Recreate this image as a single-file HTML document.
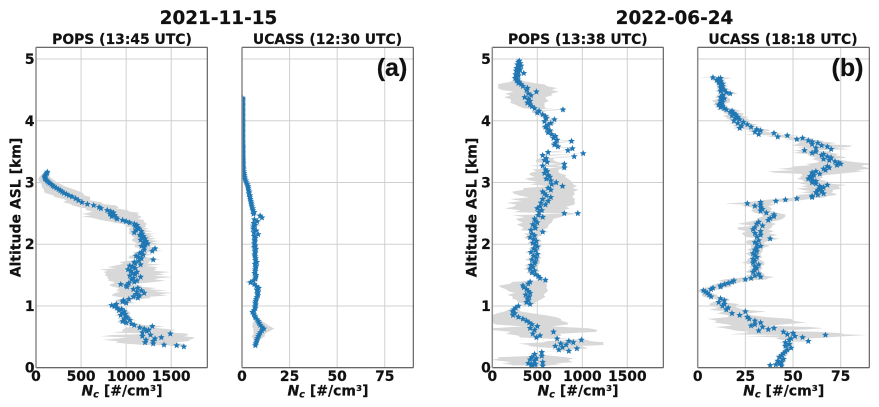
<!DOCTYPE html>
<html lang="en">
<head>
<meta charset="utf-8">
<title>Aerosol number concentration profiles</title>
<style>
html,body{margin:0;padding:0;background:#fff;width:879px;height:407px;overflow:hidden}
svg{display:block;filter:blur(0.35px)}
text{font-family:"DejaVu Sans","Liberation Sans",sans-serif;font-weight:bold;fill:#111;stroke:#111;stroke-width:0.2px}
</style>
</head>
<body>
<svg id="chart" xmlns="http://www.w3.org/2000/svg" width="879" height="407" viewBox="0 0 879 407">
<rect width="879" height="407" fill="#fff"/>
<g id="panels"></g>
<text x="218.5" y="24" font-size="18.4" text-anchor="middle">2021-11-15</text>
<text x="674.5" y="24" font-size="18.4" text-anchor="middle">2022-06-24</text>
<text x="122" y="44" font-size="13.9" text-anchor="middle">POPS (13:45 UTC)</text>
<text x="327.5" y="44" font-size="13.9" text-anchor="middle">UCASS (12:30 UTC)</text>
<text x="577.8" y="44" font-size="13.9" text-anchor="middle">POPS (13:38 UTC)</text>
<text x="783" y="44" font-size="13.9" text-anchor="middle">UCASS (18:18 UTC)</text>
<text x="392" y="76" font-size="25" text-anchor="middle" style="font-family:'Liberation Sans',sans-serif">(a)</text>
<text x="847.5" y="76" font-size="25" text-anchor="middle" style="font-family:'Liberation Sans',sans-serif">(b)</text>
<text transform="translate(20.7,207.5) rotate(-90)" font-size="14" text-anchor="middle">Altitude ASL [km]</text>
<text transform="translate(476.7,207.5) rotate(-90)" font-size="14" text-anchor="middle">Altitude ASL [km]</text>
<text x="122" y="395.5" font-size="14" text-anchor="middle"><tspan font-style="italic">N</tspan><tspan font-style="italic" font-size="9.8" dy="2">c</tspan><tspan dy="-2"> [#/cm³]</tspan></text>
<text x="328" y="395.5" font-size="14" text-anchor="middle"><tspan font-style="italic">N</tspan><tspan font-style="italic" font-size="9.8" dy="2">c</tspan><tspan dy="-2"> [#/cm³]</tspan></text>
<text x="578" y="395.5" font-size="14" text-anchor="middle"><tspan font-style="italic">N</tspan><tspan font-style="italic" font-size="9.8" dy="2">c</tspan><tspan dy="-2"> [#/cm³]</tspan></text>
<text x="783.7" y="395.5" font-size="14" text-anchor="middle"><tspan font-style="italic">N</tspan><tspan font-style="italic" font-size="9.8" dy="2">c</tspan><tspan dy="-2"> [#/cm³]</tspan></text>
</svg>
<script>
const yTickLabels = [0,1,2,3,4,5];
const popsTickLabels = [0,500,1000,1500];
const ucassTickLabels = [0,25,50,75];

const pops2021Alt = [
3.17,3.15,3.13,3.11,3.09,3.07,3.05,3.03,3.01,2.99,
2.97,2.95,2.93,2.91,2.89,2.87,2.85,2.83,2.81,2.79,
2.77,2.74,2.71,2.68,2.65,2.63,2.60,2.58,2.55,2.53,
2.51,2.49,2.47,2.45,2.43,2.41,2.39,2.37,2.35,2.33,
2.31,2.29,2.27,2.25,2.23,2.21,2.19,2.17,2.15,2.13,
2.11,2.09,2.07,2.05,2.03,2.01,1.99,1.97,1.95,1.93,
1.91,1.89,1.87,1.85,1.83,1.81,1.79,1.77,1.75,1.73,
1.71,1.69,1.67,1.65,1.63,1.61,1.59,1.57,1.55,1.53,
1.51,1.49,1.47,1.45,1.43,1.41,1.39,1.37,1.35,1.33,
1.31,1.29,1.27,1.25,1.23,1.21,1.19,1.17,1.15,1.13,
1.11,1.09,1.07,1.05,1.03,1.01,0.99,0.97,0.95,0.93,
0.91,0.89,0.87,0.85,0.83,0.81,0.79,0.77,0.75,0.73,
0.71,0.69,0.67,0.65,0.63,0.61,0.59,0.57,0.55,0.53,
0.51,0.49,0.47,0.45,0.43,0.41,0.39,0.37,0.36,0.34];
const pops2021Nc = [
125,120,110,100,95,100,105,120,135,150,
170,185,200,225,250,270,290,310,340,365,
400,440,470,510,570,640,700,720,790,830,
860,820,870,840,890,900,960,1000,1040,1090,
1120,1100,1130,1140,1110,1170,1090,1180,1150,1190,
1170,1210,1160,1220,1190,1240,1210,1170,1200,1320,
1200,1290,1170,1150,1190,1110,1130,1170,1300,1140,
1090,1100,1160,1040,1070,1100,1020,1050,1120,1070,
1100,1040,1160,1080,1060,1120,1090,1030,940,1000,
1010,1130,1080,1170,1120,1200,1110,1150,1080,1130,
1030,970,960,1000,890,840,870,900,950,920,
980,960,990,940,1000,1010,980,1040,960,1000,
1060,1090,1290,1150,1200,1250,1230,1180,1490,1270,
1180,1390,1320,1220,1300,1210,1300,1420,1560,1640];
const pops2021Spread = [
20,30,40,50,60,70,80,90,95,100,
110,120,135,150,165,180,200,210,190,170,
200,160,130,210,180,240,220,170,230,200,
280,310,260,330,270,230,240,190,170,140,
90,120,70,110,80,130,60,140,90,120,
80,130,100,150,90,120,110,80,100,70,
70,120,90,60,110,70,100,140,80,120,
170,130,230,180,280,210,320,250,370,290,
330,270,360,290,250,320,230,160,120,180,
150,210,170,280,190,320,260,310,180,140,
120,90,70,110,80,70,60,50,70,60,
50,80,60,70,50,60,80,70,60,90,
90,110,140,160,220,300,260,340,190,420,
460,370,430,480,390,330,310,240,90,40];

const ucass2021Alt = [
4.37,4.35,4.33,4.31,4.29,4.27,4.25,4.23,4.21,4.19,
4.17,4.15,4.13,4.11,4.09,4.07,4.05,4.03,4.01,3.99,
3.97,3.95,3.93,3.91,3.89,3.87,3.85,3.83,3.81,3.79,
3.77,3.75,3.73,3.71,3.69,3.67,3.65,3.63,3.61,3.59,
3.57,3.55,3.53,3.51,3.49,3.47,3.45,3.43,3.41,3.39,
3.37,3.35,3.33,3.31,3.29,3.27,3.25,3.23,3.21,
3.18,3.15,3.12,3.09,3.06,3.03,3.00,2.97,2.94,2.91,
2.88,2.85,2.82,2.79,2.76,2.73,2.70,2.67,2.64,2.61,
2.58,2.55,2.52,2.49,2.46,2.43,2.40,2.37,2.34,2.31,
2.28,2.25,2.22,2.19,2.16,2.13,2.10,2.07,2.04,2.01,
1.98,1.95,1.92,1.89,1.86,1.83,1.80,1.77,1.74,1.71,
1.68,1.65,1.62,1.59,1.56,1.53,1.50,1.47,1.44,1.41,
1.38,1.35,1.32,1.29,1.26,1.23,1.20,1.17,1.14,1.11,
1.08,1.05,1.02,0.99,0.96,0.93,0.90,0.87,0.84,0.81,
0.78,0.75,0.72,0.69,0.66,0.63,0.60,0.57,0.54,0.51,
0.48,0.45,0.42,0.39,0.36];
const ucass2021Nc = [
0.3,0.3,0.3,0.3,0.3,0.3,0.3,0.3,0.3,0.3,
0.3,0.3,0.3,0.3,0.3,0.3,0.3,0.3,0.3,0.3,
0.3,0.3,0.3,0.3,0.3,0.3,0.3,0.3,0.3,0.3,
0.3,0.3,0.3,0.3,0.3,0.3,0.3,0.3,0.4,0.4,
0.4,0.4,0.4,0.4,0.4,0.4,0.4,0.4,0.4,0.4,
0.5,0.5,0.5,0.5,0.5,0.5,0.6,0.6,0.7,
0.9,1.1,1.2,1.4,1.6,2.0,2.3,2.8,3.1,3.3,
3.4,3.8,3.6,4.2,4.1,4.4,4.6,4.9,5.0,5.2,
5.6,5.7,6.4,6.0,9.5,10.5,6.5,8.0,6.2,6.8,
6.2,5.9,7.5,6.2,8.5,6.4,7.0,6.6,6.8,6.4,
7.0,6.5,7.2,6.8,7.0,6.6,6.9,7.2,7.0,7.8,
6.8,7.4,7.2,6.9,7.0,6.6,7.4,7.2,7.0,6.0,
4.5,6.5,7.5,8.8,7.8,8.5,8.0,8.4,7.8,7.4,
7.2,7.0,7.2,6.8,7.0,6.4,5.5,6.2,6.8,7.0,
8.0,8.6,9.0,9.6,10.4,11.5,10.5,9.6,9.0,8.6,
8.2,7.8,7.6,7.2,7.0];
const ucass2021Spread = [
0.1,0.1,0.1,0.1,0.1,0.1,0.1,0.1,0.1,0.1,
0.1,0.1,0.1,0.1,0.1,0.1,0.1,0.1,0.1,0.1,
0.1,0.1,0.1,0.1,0.1,0.1,0.1,0.1,0.1,0.1,
0.1,0.1,0.1,0.1,0.1,0.1,0.1,0.1,0.1,0.1,
0.1,0.1,0.1,0.1,0.1,0.1,0.1,0.1,0.1,0.1,
0.2,0.2,0.2,0.2,0.2,0.2,0.2,0.2,0.3,
0.3,0.4,0.4,0.5,0.5,0.6,0.7,0.8,1.5,0.8,
0.8,0.9,0.9,1.0,1.0,1.0,1.0,1.0,1.0,1.0,
1.0,1.0,1.1,1.2,1.2,1.4,1.5,2.2,1.2,3.0,
1.2,1.0,1.2,1.2,1.0,0.9,1.0,1.5,1.2,1.0,
1.4,2.2,1.5,1.2,1.0,1.0,0.9,1.0,0.9,1.0,
0.9,0.9,1.0,1.0,0.9,1.0,0.9,1.0,1.2,2.5,
3.0,1.2,1.0,1.0,1.0,1.0,0.9,1.0,0.9,0.9,
0.9,0.9,0.9,1.0,1.0,1.0,1.2,1.1,1.2,1.4,
1.8,2.2,3.5,4.0,5.0,5.5,4.5,3.5,3.0,3.5,
2.5,1.5,1.2,1.0,0.8];

const pops2022Alt = [
4.97,4.95,4.93,4.91,4.89,4.87,4.85,4.83,4.81,4.79,
4.77,4.75,4.73,4.71,4.69,4.67,4.65,4.63,4.61,4.59,
4.56,4.53,4.50,4.47,4.44,4.41,4.38,4.35,4.32,4.29,
4.26,4.23,4.20,4.18,4.16,4.13,4.10,4.07,4.04,4.02,
3.99,3.96,3.93,3.90,3.87,3.84,3.81,3.78,3.75,3.72,
3.69,3.67,3.64,3.61,3.58,3.55,3.52,3.49,3.47,3.44,
3.42,3.39,3.36,3.33,3.30,3.27,3.24,3.21,3.18,3.15,
3.12,3.09,3.06,3.03,3.00,2.97,2.94,2.91,2.88,2.85,
2.82,2.79,2.76,2.73,2.70,2.67,2.64,2.61,2.58,2.55,
2.52,2.50,2.50,2.47,2.44,2.41,2.38,2.35,2.32,2.29,
2.26,2.23,2.20,2.17,2.14,2.11,2.08,2.05,2.02,1.99,
1.96,1.93,1.90,1.87,1.84,1.81,1.78,1.75,1.72,1.69,
1.66,1.63,1.60,1.57,1.54,1.51,1.48,1.45,1.42,1.39,
1.36,1.33,1.30,1.27,1.24,1.21,1.18,1.15,1.12,1.09,
1.06,1.03,1.00,0.97,0.94,0.91,0.88,0.85,0.82,0.79,
0.76,0.73,0.70,0.67,0.64,0.61,0.58,0.55,0.52,0.49,
0.47,0.45,0.43,0.41,0.39,0.37,0.35,0.33,0.31,0.29,
0.27,0.25,0.22,0.19,0.17,0.15,0.13,0.11,0.09,0.07,
0.06,0.05,0.05,0.04,0.03];
const pops2022Nc = [
300,290,310,280,320,300,270,310,265,290,
350,260,290,270,255,280,270,300,290,320,
340,390,380,490,400,430,360,400,420,390,
420,440,470,785,520,500,560,590,600,690,
580,650,620,590,610,640,620,660,700,680,
720,880,700,690,730,890,840,620,1010,560,
910,600,580,610,800,560,800,590,610,580,
620,640,600,650,710,660,780,620,650,560,
580,600,650,560,620,540,590,530,500,550,
520,800,950,510,560,470,480,500,450,470,
480,430,560,440,470,420,460,490,450,480,
500,460,480,430,500,460,490,440,480,470,
430,450,420,470,440,480,510,530,590,420,
400,340,350,380,400,420,370,410,390,400,
380,420,290,260,240,225,250,230,290,340,
380,410,440,500,420,470,680,450,530,490,
720,990,850,900,760,820,700,780,940,740,
850,550,470,550,440,490,420,470,560,400,
480,440,470,430,560];
const pops2022Spread = [
20,25,30,25,30,35,35,30,30,35,
30,40,35,40,45,40,50,100,170,260,
270,330,280,250,260,230,230,200,210,190,
160,140,120,40,80,60,60,50,40,30,
50,60,50,50,40,50,40,50,40,40,
40,30,50,40,40,30,30,50,20,90,
30,80,100,120,50,150,60,150,120,170,
200,170,240,220,180,240,160,270,310,340,
340,300,240,360,290,380,320,290,360,240,
280,120,70,290,200,210,190,160,180,150,
130,120,70,90,80,70,70,60,60,60,
50,60,50,70,50,50,60,80,50,60,
70,50,70,60,60,50,40,30,20,200,
200,270,250,230,220,170,200,180,170,120,
100,60,40,40,60,90,200,360,420,420,
390,430,400,160,650,700,470,300,240,180,
100,60,240,340,470,420,280,260,120,110,
40,30,20,130,380,420,430,390,340,300,
300,270,250,220,30];

const ucass2022Alt = [
4.70,4.69,4.68,4.66,4.64,4.62,4.60,4.58,4.56,4.54,
4.52,4.50,4.48,4.46,4.44,4.42,4.40,4.38,4.36,4.34,
4.32,4.30,4.28,4.26,4.24,4.22,4.20,4.18,4.16,4.14,
4.12,4.10,4.08,4.06,4.04,4.02,4.00,3.98,3.96,3.94,
3.92,3.90,3.88,3.86,3.84,3.82,3.80,3.78,3.76,3.74,
3.72,3.70,3.68,3.66,3.64,3.62,3.60,3.58,3.56,3.54,
3.52,3.50,3.48,3.46,3.44,3.42,3.40,3.38,3.36,3.34,
3.32,3.30,3.28,3.26,3.24,3.22,3.20,3.18,3.16,3.14,
3.12,3.10,3.08,3.06,3.04,3.02,3.00,2.98,2.96,2.94,
2.92,2.90,2.88,2.86,2.84,2.82,2.80,2.78,2.76,2.74,
2.72,2.70,2.68,2.66,2.64,2.62,2.60,2.57,2.54,2.51,
2.48,2.45,2.42,2.39,2.36,2.33,2.30,2.27,2.24,2.21,
2.18,2.15,2.12,2.09,2.06,2.03,2.00,1.97,1.94,1.91,
1.88,1.85,1.82,1.79,1.76,1.73,1.70,1.67,1.64,1.61,
1.58,1.55,1.52,1.49,1.47,1.45,1.43,1.41,1.39,1.37,
1.35,1.33,1.31,1.29,1.27,1.25,1.23,1.21,1.18,1.15,
1.12,1.09,1.06,1.03,1.00,0.97,0.94,0.91,0.88,0.85,
0.82,0.79,0.76,0.73,0.70,0.68,0.66,0.64,0.62,0.60,
0.58,0.56,0.54,0.53,0.51,0.49,0.47,0.45,0.43,0.41,
0.38,0.35,0.32,0.29,0.26,0.23,0.20,0.17,0.14,0.11,
0.09,0.07,0.05,0.04,0.03];
const ucass2022Nc = [
8,12,11,10,12,11,13,12,13,12,
13,14,12,15,17,13,13,12,14,13,
12,13,12,11,13,12,14,15,18,17,
19,20,18,21,20,22,19,24,21,26,
23,28,22,31,33,30,40,32,47,42,
55,52,58,60,63,60,65,68,62,70,
56,62,60,66,65,68,70,66,69,72,
74,75,73,68,69,66,67,62,60,64,
61,59,60,58,60,62,60,62,68,64,
66,64,63,65,62,66,63,60,60,52,
46,41,33,26,33,30,33,34,33,36,
40,40,38,37,32,31,34,30,29,33,
30,33,31,38,32,30,31,33,31,30,
31,29,30,31,29,30,29,32,30,31,
30,29,32,30,33,28,25,19,18,16,
14,12,12,8,7,3,4,5,6,7,
12,14,11,14,13,16,15,25,18,22,
26,27,30,33,30,28,34,40,37,32,
45,50,47,67,51,55,49,48,58,46,
48,46,49,47,46,45,44,43,45,42,
44,43,41,38,44];
const ucass2022Spread = [
8,6,4,3,3,2,3,2,3,2,
3,3,3,4,4,3,3,3,3,4,
5,4,3,3,3,3,3,5,5,3,
5,4,5,6,5,5,6,4,5,6,
5,7,4,6,5,4,5,8,6,6,
6,6,7,6,10,8,16,12,10,10,
6,8,10,8,7,8,8,6,7,8,
12,18,14,18,20,24,16,25,20,10,
6,5,6,6,5,6,6,8,10,10,
8,12,8,6,8,6,10,8,7,8,
10,10,7,12,8,7,5,5,5,6,
6,6,7,6,6,10,5,9,8,7,
7,9,6,5,6,5,4,5,3,4,
3,4,3,3,3,4,6,3,3,3,
3,4,3,5,7,9,11,8,5,5,
5,5,6,5,5,3,3,2,4,4,
4,3,3,8,6,5,9,11,8,6,
10,22,20,24,14,10,25,26,20,12,
18,25,30,22,26,12,8,4,3,3,
2,2,2,2,2,2,3,2,2,2,
2,2,3,2,1];

const NS = 'http://www.w3.org/2000/svg';
const panelsRoot = document.getElementById('panels');
const axisBottom = 367.7;
const axisTop = 47.3;
const kmPerYRange = 5.19;

function yScale(alt) {
  return axisBottom - alt * (axisBottom - axisTop) / kmPerYRange;
}
function makeXScale(left, right, xMax) {
  return function (v) { return left + v * (right - left) / xMax; };
}
function starPoints(cx, cy, r) {
  const pts = [];
  for (let i = 0; i < 10; i++) {
    const radius = i % 2 === 0 ? r : r * 0.45;
    const a = -Math.PI / 2 + i * Math.PI / 5;
    pts.push((cx + radius * Math.cos(a)).toFixed(2) + ',' + (cy + radius * Math.sin(a)).toFixed(2));
  }
  return pts.join(' ');
}
function svgEl(tag, attrs, parent) {
  const el = document.createElementNS(NS, tag);
  for (const k in attrs) el.setAttribute(k, attrs[k]);
  parent.appendChild(el);
  return el;
}

function drawPanel(id, left, right, xMax, xLabels, showY, alts, vals, spreads) {
  const x = makeXScale(left, right, xMax);
  const g = svgEl('g', {}, panelsRoot);
  
  

  const clip = svgEl('clipPath', { id: 'clip-' + id }, g);
  svgEl('rect', { x: left, y: axisTop, width: right - left, height: axisBottom - axisTop }, clip);

  xLabels.forEach(function (t) {
    const line = svgEl('line', { x1: x(t), x2: x(t), y1: axisTop, y2: axisBottom, stroke: '#d0d0d0', 'stroke-width': 1 }, g);
    
    
  });
  yTickLabels.forEach(function (t) {
    const line = svgEl('line', { x1: left, x2: right, y1: yScale(t), y2: yScale(t), stroke: '#d0d0d0', 'stroke-width': 1 }, g);
    
    
  });

  const n = Math.min(alts.length, vals.length, spreads.length);
  const upper = [];
  const lower = [];
  for (let i = 0; i < n; i++) {
    upper.push(x(vals[i] + spreads[i]).toFixed(2) + ',' + yScale(alts[i]).toFixed(2));
    lower.unshift(x(Math.max(0, vals[i] - spreads[i])).toFixed(2) + ',' + yScale(alts[i]).toFixed(2));
  }
  const band = svgEl('polygon', { points: upper.concat(lower).join(' '), fill: '#d8d8d8', 'clip-path': 'url(#clip-' + id + ')' }, g);
  
  

  const stars = svgEl('g', { fill: '#1f77b4', 'clip-path': 'url(#clip-' + id + ')' }, g);
  
  
  for (let i = 0; i < n; i++) {
    const star = svgEl('polygon', { points: starPoints(x(vals[i]), yScale(alts[i]), 3.5) }, stars);
    
    
  }

  const spines = [
    [left, axisTop, right, axisTop, '#555', 1.1],
    [right, axisTop, right, axisBottom, '#555', 1.1],
    [left, axisBottom, right, axisBottom, '#555', 1.1],
    [left, axisTop, left, axisBottom, '#8c8c8c', 1.5]
  ];
  spines.forEach(function (s) {
    const line = svgEl('line', { x1: s[0], y1: s[1], x2: s[2], y2: s[3], stroke: s[4], 'stroke-width': s[5] }, g);
    
    
  });

  xLabels.forEach(function (t) {
    const label = svgEl('text', { x: x(t), y: 381, 'font-size': 13.9, 'text-anchor': 'middle' }, g);
    label.textContent = t;
    
    
  });
  if (showY) {
    yTickLabels.forEach(function (t) {
      const label = svgEl('text', { x: left - 1.5, y: yScale(t) + 5, 'font-size': 13.9, 'text-anchor': 'end' }, g);
      label.textContent = t;
      
      
    });
  }
}

drawPanel('pops-2021', 36, 207.3, 1900, popsTickLabels, true, pops2021Alt, pops2021Nc, pops2021Spread);
drawPanel('ucass-2021', 242, 413.3, 90, ucassTickLabels, false, ucass2021Alt, ucass2021Nc, ucass2021Spread);
drawPanel('pops-2022', 492.3, 663.3, 1900, popsTickLabels, true, pops2022Alt, pops2022Nc, pops2022Spread);
drawPanel('ucass-2022', 697.7, 869.3, 90, ucassTickLabels, false, ucass2022Alt, ucass2022Nc, ucass2022Spread);
</script>
</body>
</html>
